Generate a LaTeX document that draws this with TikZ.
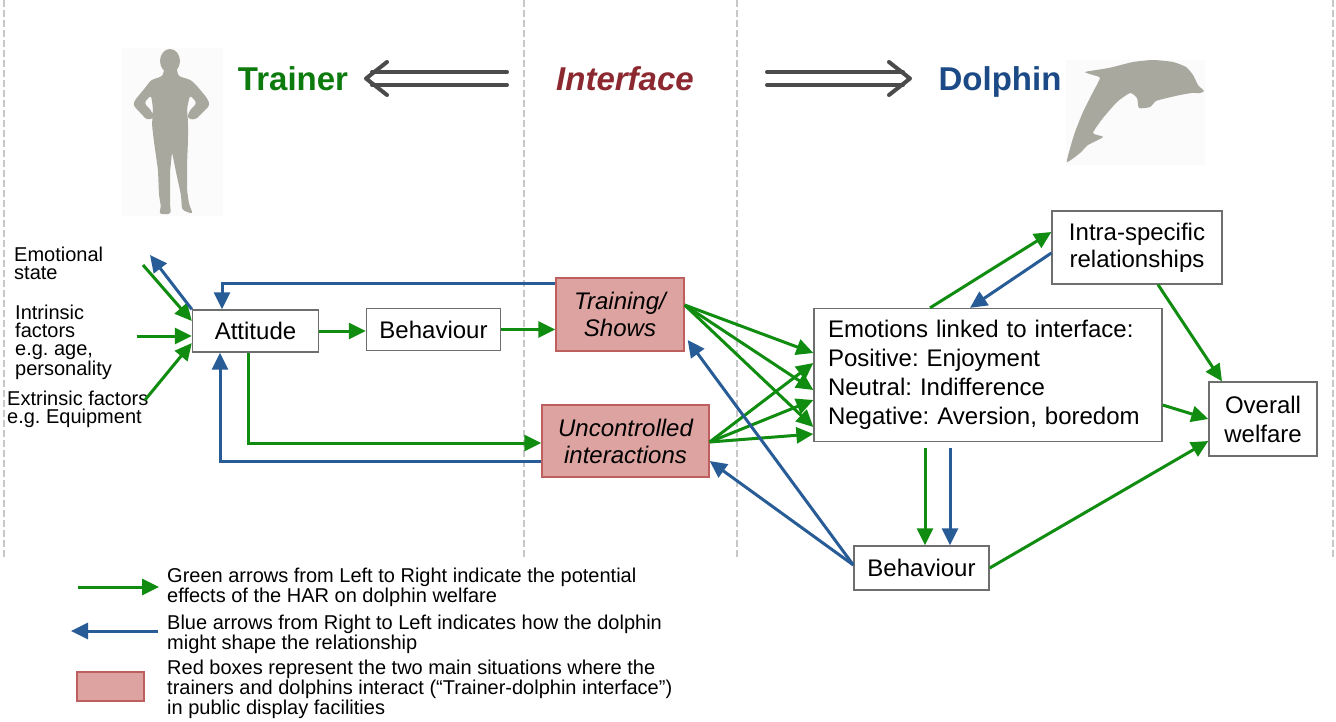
\documentclass[tikz,border=0pt]{standalone}
\usepackage{fontspec}
\setmainfont{Liberation Sans}
\usetikzlibrary{arrows.meta}
\frenchspacing
\definecolor{garr}{RGB}{16,140,16}
\definecolor{barr}{RGB}{40,92,150}
\definecolor{tgreen}{RGB}{12,122,12}
\definecolor{tblue}{RGB}{28,74,134}
\definecolor{tred}{RGB}{140,40,48}
\definecolor{redfill}{RGB}{221,163,160}
\definecolor{redline}{RGB}{190,95,95}
\definecolor{boxline}{RGB}{110,110,110}
\definecolor{sil}{RGB}{168,168,158}
\definecolor{dashc}{RGB}{200,200,200}
\definecolor{dark}{RGB}{75,75,75}
\begin{document}
\frenchspacing
\begin{tikzpicture}[x=1pt,y=-1pt,
 garrow/.style={draw=garr, line width=3pt, -{Triangle[length=17pt,width=16pt]}},
 barrow/.style={draw=barr, line width=3pt, -{Triangle[length=17pt,width=16pt]}},
 wbox/.style={draw=boxline, line width=1.3pt, fill=white, inner sep=0pt, font=\fontsize{24}{27}\selectfont, align=center},
 rbox/.style={wbox, draw=redline, fill=redfill, font=\fontsize{24}{27}\selectfont\itshape},
 lbl/.style={inner sep=0pt, anchor=base west, align=left, font=\fontsize{20}{18}\selectfont},
 sepline/.style={draw=dashc, line width=1.3pt, dash pattern=on 7pt off 3pt},
 title/.style={font=\fontsize{33}{36}\selectfont\bfseries, inner sep=0pt, anchor=base},
 dbl/.style={draw=dark, line width=4pt, line cap=round, line join=round},
]
\useasboundingbox[fill=white] (0,0) rectangle (1336,721);

% separators
\draw[sepline] (4,0) -- (4,558);
\draw[sepline] (524,0) -- (524,558);
\draw[sepline] (737,0) -- (737,558);
\draw[sepline] (1333,0) -- (1333,558);

% silhouettes
\fill[black!1.5] (122,48) rectangle (223,216);
\fill[sil] (170,61) ellipse[x radius=10, y radius=12];
\fill[sil, rounded corners=3pt] (164,68) -- (163,76) -- (151,80) -- (145,88) -- (135,100) -- (133,105) -- (147,120) -- (154,118) -- (151,110) -- (144,103) -- (151,95) -- (153,108) -- (152,125) -- (154,142) -- (158,170) -- (159,195) -- (161,207) -- (159,214) -- (171,214) -- (170,204) -- (170,172) -- (172,152) -- (176,172) -- (181,195) -- (182,210) -- (193,214) -- (189,204) -- (187,190) -- (187,165) -- (188,140) -- (188,122) -- (187,108) -- (190,95) -- (197,103) -- (190,110) -- (187,118) -- (195,120) -- (210,105) -- (207,98) -- (197,86) -- (191,80) -- (178,76) -- (177,68) -- cycle;
\fill[black!1.5] (1066,60) rectangle (1205,165);
\fill[sil] plot[smooth cycle, tension=0.35] coordinates {(1204,91) (1198,85) (1193,75) (1186,67) (1173,62) (1153,60) (1133,62) (1113,67) (1103,69) (1085,72) (1093,75) (1100,78) (1093,92) (1083,112) (1075,132) (1071,145) (1067,162) (1080,153) (1088,145) (1103,137) (1093,133) (1103,118) (1117,102) (1130,93) (1137,98) (1139,108) (1150,107) (1156,101) (1167,98) (1180,95) (1192,93) (1200,93)};

% titles
\node[title, text=tgreen] (ttr) at (293,90) {Trainer};
\node[title, text=tred, font=\fontsize{33}{36}\selectfont\bfseries\itshape] (tif) at (625,90) {Interface};
\node[title, text=tblue] (tdo) at (1000,90) {Dolphin};
\coordinate (la1) at (507,72); \coordinate (la2) at (372,72);
\coordinate (lb1) at (507,85); \coordinate (lb2) at (372,85);
\draw[dbl] (la1) -- (la2); \draw[dbl] (lb1) -- (lb2);
\draw[dbl] (387,62) -- (366,78.5) -- (387,95);
\coordinate (ra1) at (767,72); \coordinate (ra2) at (903,72);
\coordinate (rb1) at (767,85); \coordinate (rb2) at (903,85);
\draw[dbl] (ra1) -- (ra2); \draw[dbl] (rb1) -- (rb2);
\draw[dbl] (889,62) -- (910,78.5) -- (889,95);

% left labels (anchored at last baseline)
\node[lbl] (emot) at (14,279) {Emotional\\state};
\node[lbl] (intr) at (15,375) {Intrinsic\\factors\\e.g. age,\\personality};
\node[lbl] (extr) at (7,423) {Extrinsic factors\\e.g. Equipment};

% boxes
\node[wbox, minimum width=126pt, minimum height=42pt] (att) at (255.5,331) {Attitude};
\node[wbox, minimum width=134pt, minimum height=42pt] (tbeh) at (433.5,329.5) {Behaviour};
\node[rbox, minimum width=128pt, minimum height=73pt] (train) at (620,314.5) {Training/\\Shows};
\node[rbox, minimum width=167pt, minimum height=72pt] (unc) at (625.5,441) {Uncontrolled\\interactions};
\node[wbox, minimum width=348pt, minimum height=133pt, text width=320pt, align=left, font=\fontsize{24}{29}\selectfont] (emo) at (988,375) {Emotions linked to interface:\\Positive: Enjoyment\\Neutral: Indifference\\Negative: Aversion, boredom};
\node[wbox, minimum width=170pt, minimum height=73pt] (intra) at (1137,247.5) {Intra-specific\\relationships};
\node[wbox, minimum width=108pt, minimum height=74pt, font=\fontsize{24}{29}\selectfont] (over) at (1263,419) {Overall\\welfare};
\node[wbox, minimum width=135pt, minimum height=44pt] (dbeh) at (921.5,568) {Behaviour};

% inputs to attitude
\coordinate (in1) at (143,265);
\coordinate (in2) at (137,336);
\coordinate (in3) at (145,400);
\coordinate (out1) at (150,255);
\draw[garrow] (in1) -- ([yshift=10pt]att.west);
\draw[garrow] (in2) -- ([yshift=-5pt]att.west);
\draw[garrow] (in3) -- ([yshift=-12pt]att.west);
\draw[barrow] (att.north west) -- (out1);

% trainer side
\draw[garrow] (att.east) -- (att.east -| tbeh.west);
\draw[garrow] (tbeh.east) -- (tbeh.east -| train.west);
\draw[barrow] ([yshift=31.5pt]train.west) -| ([xshift=-33.5pt]att.north);
\draw[garrow] ([xshift=-7.5pt]att.south) |- ([yshift=-2pt]unc.west);
\draw[barrow] ([yshift=-20pt]unc.west) -| ([xshift=-35.5pt]att.south);

% interface to emotions
\draw[garrow] ([yshift=9.5pt]train.east) -- ([yshift=22pt]emo.west);
\draw[garrow] ([yshift=9.5pt]train.east) -- ([yshift=-15pt]emo.west);
\draw[garrow] ([yshift=9.5pt]train.east) -- ([yshift=-52pt]emo.west);
\draw[garrow] ([yshift=-1pt]unc.east) -- ([yshift=12pt]emo.west);
\draw[garrow] ([yshift=-1pt]unc.east) -- ([yshift=-25pt]emo.west);
\draw[garrow] ([yshift=-1pt]unc.east) -- ([yshift=-59pt]emo.west);

% dolphin behaviour back to interface
\draw[barrow] ([yshift=3pt]dbeh.west) -- ([xshift=3pt,yshift=-25.5pt]train.east);
\draw[barrow] ([yshift=3pt]dbeh.west) -- ([yshift=-20pt]unc.east);

% dolphin side
\draw[garrow] ([xshift=-58pt]emo.north) -- ([yshift=15.5pt]intra.west);
\draw[barrow] ([yshift=-5.5pt]intra.west) -- ([xshift=-18pt]emo.north);
\draw[garrow] ([xshift=21pt]intra.south) -- ([xshift=-41pt]over.north);
\draw[garrow] ([yshift=-30pt]emo.east) -- (over.west);
\draw[garrow] (dbeh.east) -- ([yshift=-22pt]over.west);
\draw[garrow] ([xshift=-63pt,yshift=-6pt]emo.south) -- ([xshift=3.5pt]dbeh.north);
\draw[barrow] ([xshift=-38pt,yshift=-6pt]emo.south) -- ([xshift=28.5pt]dbeh.north);

% legend
\coordinate (lga1) at (78,587); \coordinate (lga2) at (159,587);
\draw[garrow] (lga1) -- (lga2);
\coordinate (lgb1) at (158,631); \coordinate (lgb2) at (71,631);
\draw[barrow] (lgb1) -- (lgb2);
\node[rbox, minimum width=67pt, minimum height=29pt] (lgbox) at (110.5,686.5) {};
\node[lbl] (lg1) at (167,602) {Green arrows from Left to Right indicate the potential\\effects of the HAR on dolphin welfare};
\node[lbl] (lg2) at (167,649) {Blue arrows from Right to Left indicates how the dolphin\\might shape the relationship};
\node[lbl] (lg3) at (167,714) {Red boxes represent the two main situations where the\\trainers and dolphins interact (“Trainer-dolphin interface”)\\in public display facilities};
\end{tikzpicture}
\end{document}
